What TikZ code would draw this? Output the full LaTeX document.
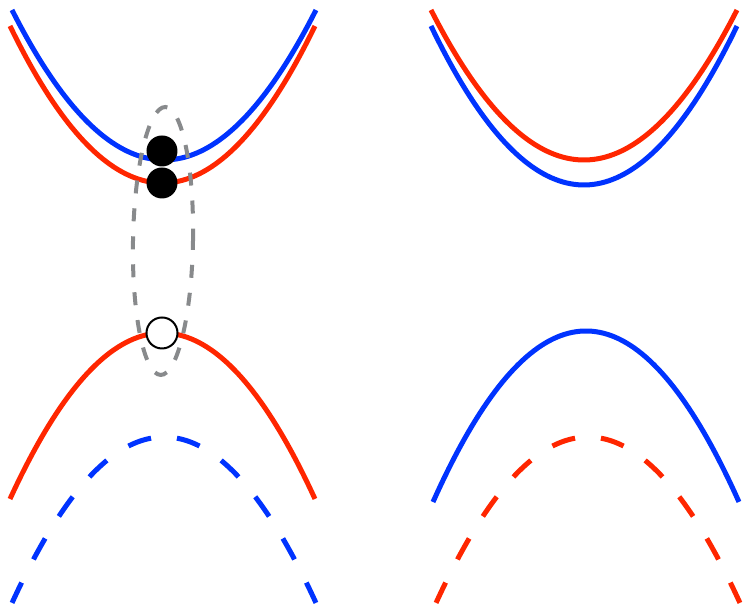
\documentclass[tikz,border=0pt]{standalone}
\usetikzlibrary{shapes.geometric}

\definecolor{bandblue}{RGB}{0,51,255}
\definecolor{bandred}{RGB}{255,38,0}
\definecolor{ringgray}{RGB}{136,138,140}

\begin{document}
\begin{tikzpicture}[
  x=0.1mm, y=-0.1mm,
  declare function={band(\u)=\u*\u;},
  bandline/.style={line width=0.5mm},
  bandgaps/.style={line width=0.5mm, dash pattern=on 2.4mm off 2.6mm, dash phase=3.7mm},
  dot/.style={circle, fill=black, minimum size=3.1mm, inner sep=0pt},
  hole/.style={circle, draw=black, fill=white, line width=0.2mm, minimum size=3.1mm, inner sep=0pt},
  pairring/.style={ellipse, draw=ringgray, line width=0.4mm, dash pattern=on 1.3mm off 1.5mm,
    minimum width=6mm, minimum height=26.8mm, inner sep=0pt}
]
\useasboundingbox (0,0) rectangle (743,607);

% left panel
\draw[bandline, bandblue] plot[domain=-1:1, samples=80] ({164+152*\x}, {160-150*band(\x)});
\draw[bandline, bandred]  plot[domain=-1:1, samples=80] ({162.5+152.5*\x}, {183-157*band(\x)});
\draw[bandline, bandred]  plot[domain=-1:1, samples=80] ({162.5+152.5*\x}, {333+166*band(\x)});
\draw[bandgaps, bandblue] plot[domain=0:1, samples=50] ({164+152*\x}, {437+166*band(\x)});
\draw[bandgaps, bandblue] plot[domain=0:-1, samples=50] ({164+152*\x}, {437+166*band(\x)});

% right panel
\draw[bandline, bandred]  plot[domain=-1:1, samples=80] ({584+153*\x}, {160-150*band(\x)});
\draw[bandline, bandblue] plot[domain=-1:1, samples=80] ({584+153*\x}, {185-159*band(\x)});
\draw[bandline, bandblue] plot[domain=-1:1, samples=80] ({586+153*\x}, {331+171*band(\x)});
\draw[bandgaps, bandred]  plot[domain=0:1, samples=50] ({588+152*\x}, {437+166*band(\x)});
\draw[bandgaps, bandred]  plot[domain=0:-1, samples=50] ({588+152*\x}, {437+166*band(\x)});

% pair and carriers
\node[pairring, rotate=-1] (pair) at (163,241) {};
\node[dot] (upper) at (162,151) {};
\node[dot] (lower) at (162,183) {};
\node[hole] (hole) at (162,333) {};
\end{tikzpicture}
\end{document}
